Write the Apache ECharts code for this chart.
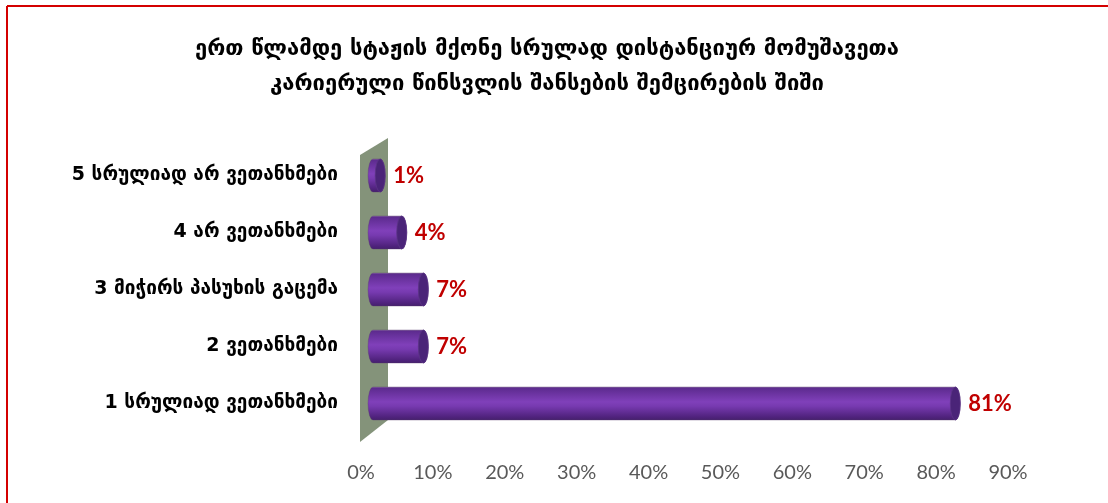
<!DOCTYPE html>
<html>
<head>
<meta charset="utf-8">
<script src="https://cdn.jsdelivr.net/npm/echarts@6/dist/echarts.min.js"></script>
<style>
  html, body { margin: 0; padding: 0; background: #ffffff; }
  #chart { width: 1108px; height: 503px; }
</style>
</head>
<body>
<div id="chart"></div>
<script>
// Chart text and values
const titleLines = [
  'ერთ წლამდე სტაჟის მქონე სრულად დისტანციურ მომუშავეთა',
  'კარიერული წინსვლის შანსების შემცირების შიში'
];
const categories = [
  '5 სრულიად არ ვეთანხმები',
  '4 არ ვეთანხმები',
  '3 მიჭირს პასუხის გაცემა',
  '2 ვეთანხმები',
  '1 სრულიად ვეთანხმები'
];
const shares = [1, 4, 7, 7, 81];
const axisMin = 0;
const axisMax = 90;
const axisStep = 10;

// Layout of the plot area
const GRID = { left: 361, right: 100, top: 147, height: 285 };
const GEORGIAN_FONT = '"DejaVu Sans", "Noto Sans", sans-serif';
const DEPTH = 12;      // horizontal shift of the bar row behind the floor edge
const CAP_RX = 5;      // half-width of the cylinder's elliptical ends

const bodyGradient = new echarts.graphic.LinearGradient(0, 0, 0, 1, [
  { offset: 0.00, color: '#9b82ad' },
  { offset: 0.05, color: '#5d2b8f' },
  { offset: 0.45, color: '#8040ba' },
  { offset: 0.58, color: '#773ab0' },
  { offset: 0.90, color: '#4f227c' },
  { offset: 1.00, color: '#43206a' }
]);

function renderCylinder(params, api) {
  const value = api.value(0);
  const idx = api.value(1);
  const start = api.coord([0, idx]);
  const end = api.coord([value, idx]);
  const band = api.size([0, 1])[1];
  const h = band * 0.58;
  const ry = h / 2;
  const cy = end[1];
  const top = cy - ry;
  const bottom = cy + ry;
  const x0 = start[0] + DEPTH;
  const x1 = end[0] + DEPTH;

  const body = 'M' + x0 + ' ' + top + ' L' + x1 + ' ' + top +
    ' A' + CAP_RX + ' ' + ry + ' 0 0 1 ' + x1 + ' ' + bottom +
    ' L' + x0 + ' ' + bottom +
    ' A' + CAP_RX + ' ' + ry + ' 0 0 1 ' + x0 + ' ' + top + ' Z';
  const cap = 'M' + x1 + ' ' + top +
    ' A' + CAP_RX + ' ' + ry + ' 0 0 1 ' + x1 + ' ' + bottom +
    ' A' + CAP_RX + ' ' + ry + ' 0 0 1 ' + x1 + ' ' + top + ' Z';

  return {
    type: 'group',
    children: [
      { type: 'path', shape: { pathData: body }, style: { fill: bodyGradient, stroke: 'rgba(90,60,110,0.35)', lineWidth: 1 } },
      { type: 'path', shape: { pathData: cap }, style: { fill: '#4a2478', stroke: '#5a3585', lineWidth: 0.8 } },
      {
        type: 'text',
        style: {
          text: value + '%',
          x: x1 + CAP_RX + 8,
          y: cy,
          align: 'left',
          verticalAlign: 'middle',
          fill: '#c00000',
          font: 'bold 22px Lato, "Open Sans", sans-serif'
        }
      }
    ]
  };
}

const chart = echarts.init(document.getElementById('chart'), null, { renderer: 'canvas' });

const wallLeft = GRID.left - 1;
const wallRight = GRID.left + 27;
const gridBottom = GRID.top + GRID.height;

chart.setOption({
  animation: false,
  backgroundColor: '#ffffff',
  title: {
    text: titleLines.join('\n'),
    left: 542,
    top: 27,
    textAlign: 'center',
    textStyle: {
      fontFamily: GEORGIAN_FONT,
      fontSize: 22,
      fontWeight: 'bold',
      color: '#000000',
      lineHeight: 35
    }
  },
  graphic: [
    // frame lines
    { type: 'line', shape: { x1: 7, y1: 6, x2: 1108, y2: 6 }, style: { stroke: '#d40000', lineWidth: 2 }, z: 0 },
    { type: 'line', shape: { x1: 7, y1: 6, x2: 7, y2: 503 }, style: { stroke: '#d40000', lineWidth: 2 }, z: 0 },
    // back wall of the 3D plot
    {
      type: 'polygon',
      shape: { points: [[wallLeft, GRID.top + 8], [wallRight, GRID.top - 9], [wallRight, gridBottom - 12], [wallLeft, gridBottom + 10]] },
      style: { fill: '#84937a' },
      z: 0
    }
  ],
  grid: { left: GRID.left, right: GRID.right, top: GRID.top, height: GRID.height, containLabel: false },
  xAxis: {
    type: 'value',
    min: axisMin,
    max: axisMax,
    interval: axisStep,
    axisLine: { show: false },
    axisTick: { show: false },
    splitLine: { show: false },
    axisLabel: {
      formatter: '{value}%',
      color: '#595959',
      fontSize: 20,
      fontFamily: 'Lato, "Open Sans", sans-serif',
      margin: 31
    }
  },
  yAxis: {
    type: 'category',
    data: categories,
    inverse: true,
    axisLine: { show: false },
    axisTick: { show: false },
    splitLine: { show: false },
    axisLabel: {
      color: '#000000',
      fontSize: 19,
      fontWeight: 'bold',
      fontFamily: GEORGIAN_FONT,
      margin: 23
    }
  },
  series: [{
    type: 'custom',
    clip: false,
    renderItem: renderCylinder,
    encode: { x: 0, y: 1 },
    data: shares.map((v, i) => [v, i]),
    z: 5
  }]
});
</script>
</body>
</html>
